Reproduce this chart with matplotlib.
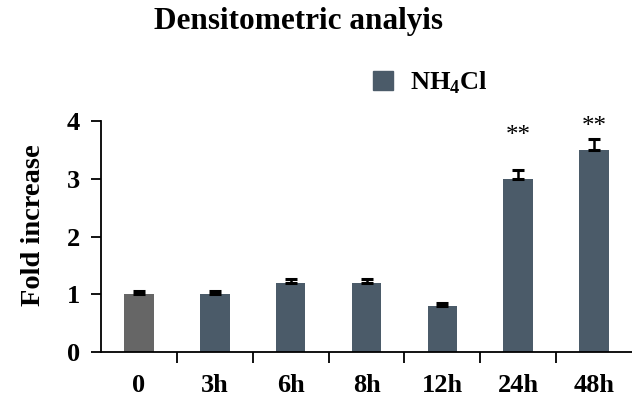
import matplotlib
matplotlib.use("Agg")
import matplotlib.pyplot as plt
import numpy as np
from matplotlib.patches import Patch

plt.rcParams['font.family'] = ['Liberation Serif', 'DejaVu Serif']
plt.rcParams['mathtext.fontset'] = 'custom'
plt.rcParams['mathtext.rm'] = 'Liberation Serif'
plt.rcParams['mathtext.bf'] = 'Liberation Serif:bold'

categories = ["0", "3h", "6h", "8h", "12h", "24h", "48h"]
values = [1.0, 1.0, 1.2, 1.2, 0.8, 3.0, 3.5]
errors = [0.06, 0.06, 0.06, 0.06, 0.05, 0.15, 0.19]
stars = ["", "", "", "", "", "**", "**"]
star_y = [None, None, None, None, None, 3.64, 3.79]
colors = ["#666666"] + ["#4b5b69"] * 6
yticks = [0, 1, 2, 3, 4]

fig = plt.figure(figsize=(6.32, 3.97), dpi=100)
ax = fig.add_axes([101/632, 1 - 352/397, 531/632, (352 - 121)/397])

x = np.arange(len(categories))
ax.bar(x, values, width=0.39, color=colors, zorder=2)
ax.errorbar(x, values, yerr=[np.zeros(len(x)), errors], fmt='none',
            ecolor='black', elinewidth=1.8, capsize=4.3, capthick=2.2, zorder=3)
for xi, s, sy in zip(x, stars, star_y):
    if s:
        ax.text(xi, sy, s, ha='center', va='baseline', fontsize=18)

ax.set_xlim(-0.5, len(categories) - 0.5)
ax.set_ylim(0, 4)
ax.set_yticks(yticks)
ax.set_yticklabels([str(t) for t in yticks], fontsize=19, fontweight='bold')
ax.set_xticks(x)
ax.set_xticklabels(categories, fontsize=19, fontweight='bold')
ax.set_xticks(np.arange(len(categories) - 1) + 0.5, minor=True)
ax.tick_params(axis='x', which='major', length=0, pad=16)
ax.tick_params(axis='x', which='minor', length=8, width=1.3, direction='out')
ax.tick_params(axis='y', length=7, width=1.3, pad=8)
for side in ['top', 'right']:
    ax.spines[side].set_visible(False)
for side in ['left', 'bottom']:
    ax.spines[side].set_linewidth(1.3)
ax.set_ylabel("Fold increase", fontsize=20.5, fontweight='bold')
ax.yaxis.set_label_coords((46 - 101) / 531, (352 - 225) / 231)

fig.text(299/632, 1 - 21/397, "Densitometric analyis", ha='center', va='center',
         fontsize=22.5, fontweight='bold')

leg = ax.legend(handles=[Patch(color="#4b5b69")], labels=["NH$_\\mathbf{4}$Cl"],
                loc='center left', bbox_to_anchor=(373/632, 1 - 83/397),
                bbox_transform=fig.transFigure, frameon=False,
                borderaxespad=0, borderpad=0,
                prop={'size': 19, 'weight': 'bold'}, handlelength=0.75,
                handleheight=0.75, handletextpad=0.65)

fig.savefig("out.png", dpi=100)
